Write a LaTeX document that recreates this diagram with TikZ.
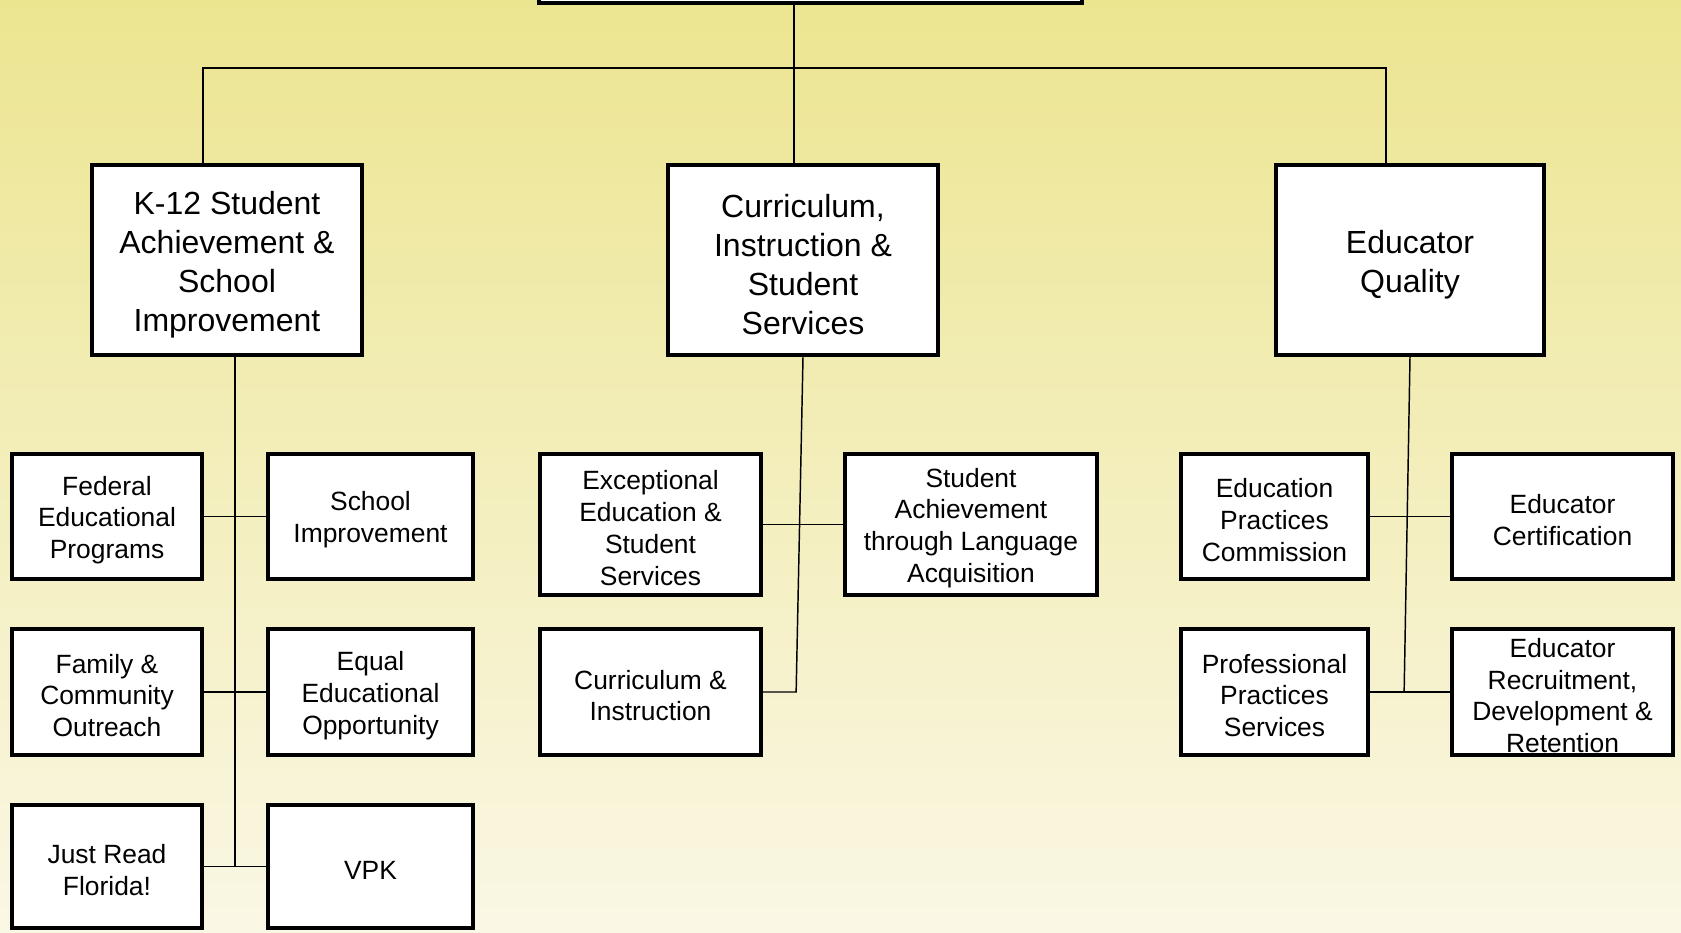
\documentclass[tikz,border=0pt]{standalone}
\usepackage{fontspec}
\setmainfont{Liberation Sans}
\usetikzlibrary{calc}
\definecolor{bgtop}{RGB}{236,229,144}
\definecolor{bgbot}{RGB}{250,247,229}
\begin{document}
\begin{tikzpicture}[x=0.75pt,y=-0.75pt,
  box/.style={draw=black, line width=3.2pt, fill=white, inner sep=0pt},
  sz/.style 2 args={minimum width=#1*0.75pt, minimum height=#2*0.75pt},
  bigtxt/.style={inner sep=0pt, align=center, yshift=-3.4pt, font=\fontsize{24}{29.3}\selectfont},
  smalltxt/.style={inner sep=0pt, align=center, yshift=-2.6pt, font=\fontsize{19.8}{23.8}\selectfont},
  conn/.style={line width=1.1pt, draw=black}]
\useasboundingbox (0,0) rectangle (1681,932);
\shade[top color=bgtop,bottom color=bgbot] (0,0) rectangle (1681,932);

% top level (cut off)
\node[box, sz={543}{126}] (top) at (810.5,-60) {};

% second level
\node[box, sz={270}{190}] (k12) at (227,260) {};
\node[box, sz={270}{190}] (cis) at (803,260) {};
\node[box, sz={268}{190}] (eq)  at (1410,260) {};
\node[bigtxt] (k12t) at (k12) {K-12 Student\\Achievement \&\\School\\Improvement};
\node[bigtxt] (cist) at (cis) {Curriculum,\\Instruction \&\\Student\\Services};
\node[bigtxt] (eqt)  at (eq)  {Educator\\Quality};

% row 1
\node[box, sz={190}{125}] (fed) at (107,516.5) {};
\node[box, sz={205}{125}] (si)  at (370.5,516.5) {};
\node[box, sz={221}{141}] (exc) at (650.5,524.5) {};
\node[box, sz={252}{141}] (sa)  at (971,524.5) {};
\node[box, sz={187}{125}] (epc) at (1274.5,516.5) {};
\node[box, sz={221}{125}] (ec)  at (1562.5,516.5) {};
\node[smalltxt] (fedt) at (fed) {Federal\\Educational\\Programs};
\node[smalltxt] (sit)  at (si)  {School\\Improvement};
\node[smalltxt] (exct) at (exc) {Exceptional\\Education \&\\Student\\Services};
\node[smalltxt] (sat)  at (sa)  {Student\\Achievement\\through Language\\Acquisition};
\node[smalltxt] (epct) at (epc) {Education\\Practices\\Commission};
\node[smalltxt] (ect)  at (ec)  {Educator\\Certification};

% row 2
\node[box, sz={190}{126}] (fam) at (107,692) {};
\node[box, sz={205}{126}] (eeo) at (370.5,692) {};
\node[box, sz={221}{126}] (ci)  at (650.5,692) {};
\node[box, sz={187}{126}] (pps) at (1274.5,692) {};
\node[box, sz={221}{126}] (er)  at (1562.5,692) {};
\node[smalltxt] (famt) at (fam) {Family \&\\Community\\Outreach};
\node[smalltxt] (eeot) at (eeo) {Equal\\Educational\\Opportunity};
\node[smalltxt] (cit)  at (ci)  {Curriculum \&\\Instruction};
\node[smalltxt] (ppst) at (pps) {Professional\\Practices\\Services};
\node[smalltxt] (ert)  at (er)  {Educator\\Recruitment,\\Development \&\\Retention};

% row 3
\node[box, sz={190}{123}] (jr)  at (107,866.5) {};
\node[box, sz={205}{123}] (vpk) at (370.5,866.5) {};
\node[smalltxt] (jrt)  at (jr)  {Just Read\\Florida!};
\node[smalltxt] (vpkt) at (vpk) {VPK};

% connectors
\coordinate (bar) at (0,68);
\coordinate (kt) at ($(k12.north)+(-24,0)$);
\coordinate (ct) at ($(cis.north)+(-9,0)$);
\coordinate (et) at ($(eq.north)+(-24,0)$);
\draw[conn] (kt) -- (kt |- bar) -- (et |- bar) -- (et);
\draw[conn] (top.south -| ct) -- (ct);

\coordinate (kb) at ($(k12.south)+(8,0)$);
\draw[conn] (kb) -- (kb |- jr.east);
\draw[conn] (fed.east) -- (si.west);
\draw[conn] (fam.east) -- (eeo.west);
\draw[conn] (jr.east) -- (vpk.west);

\coordinate (cj) at ($(ci.east)+(33,0)$);
\draw[conn] (cis.south) -- (cj) -- (ci.east);
\draw[conn] (exc.east) -- (sa.west);

\coordinate (ej) at ($(pps.east)+(34,0)$);
\draw[conn] (eq.south) -- (ej) -- (pps.east);
\draw[conn] (epc.east) -- (ec.west);
\draw[conn] (pps.east) -- (er.west);
\end{tikzpicture}
\end{document}
